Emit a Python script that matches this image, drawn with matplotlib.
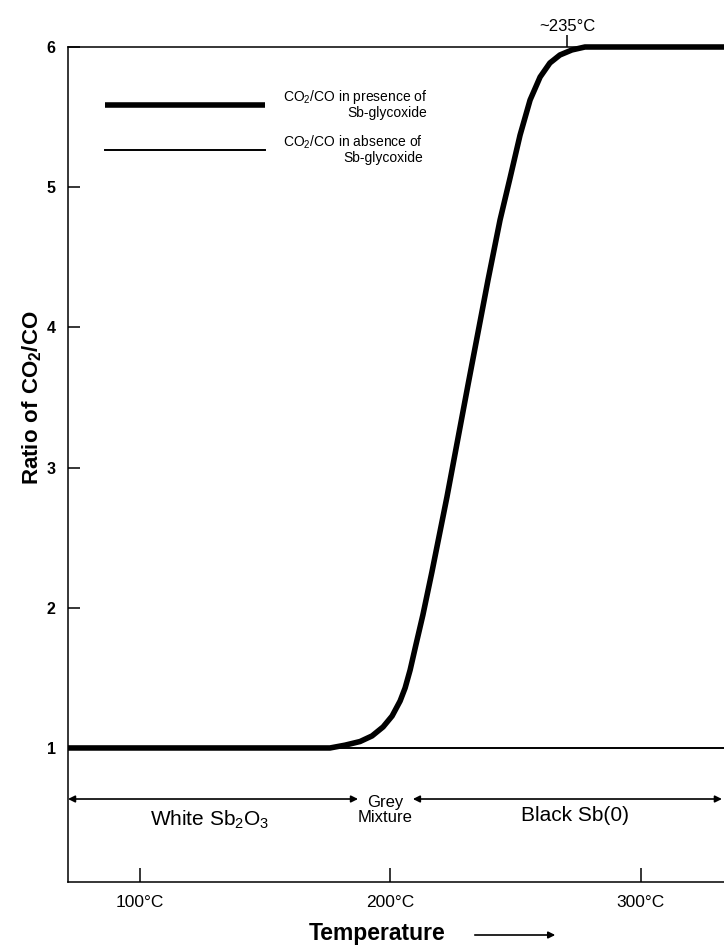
import numpy as np
import matplotlib
matplotlib.use("Agg")
import matplotlib.pyplot as plt

plt.rcParams['font.family'] = ['Liberation Sans', 'DejaVu Sans']
plt.rcParams['mathtext.fontset'] = 'custom'
plt.rcParams['mathtext.rm'] = 'Liberation Sans'
plt.rcParams['mathtext.bf'] = 'Liberation Sans:bold'
plt.rcParams['mathtext.default'] = 'regular'

# --- data (temperature in degC, ratio CO2/CO) ---
temp_with = [71.3, 175.9, 181.9, 187.9, 192.7, 197.1, 200.7, 203.9, 205.9,
             207.9, 210.2, 213.0, 216.6, 222.6, 231.0, 239.0, 243.8, 247.8,
             251.8, 255.8, 259.8, 263.7, 267.7, 272.5, 277.7, 345]
ratio_with = [1.0, 1.0, 1.02, 1.046, 1.086, 1.15, 1.228, 1.335, 1.428,
              1.556, 1.735, 1.949, 2.255, 2.79, 3.589, 4.338, 4.766, 5.066,
              5.372, 5.622, 5.786, 5.886, 5.943, 5.979, 6.0, 6.0]
temp_without = [71.3, 345]
ratio_without = [1.0, 1.0]

x_ticks = [100, 200, 300]
x_tick_labels = ['100°C', '200°C', '300°C']
y_ticks = [1, 2, 3, 4, 5, 6]
plateau_temp = 270.5
plateau_label = '~235°C'

# phase regions (temperature span of each arrow)
white_range = (71.3, 187.1)
black_range = (209.0, 332.4)

fig = plt.figure(figsize=(7.24, 9.46), dpi=100)
ax = fig.add_axes([68 / 724, 1 - 882 / 946, (753.5 - 68) / 724, (882 - 47) / 946])

ax.plot(temp_without, ratio_without, color='black', lw=1.4,
        label='CO$_2$/CO in absence of\nSb-glycoxide')
ax.plot(temp_with, ratio_with, color='black', lw=4.0, clip_on=False,
        solid_joinstyle='round', solid_capstyle='butt',
        label='CO$_2$/CO in presence of\nSb-glycoxide')

ax.set_xlim(71.3, 345)
ax.set_ylim(0.044, 6.0)

ax.set_xticks(x_ticks, labels=x_tick_labels)
ax.set_yticks(y_ticks)
ax.tick_params(axis='x', direction='in', length=10, width=1.1, pad=9, labelsize=12.5)
ax.tick_params(axis='y', direction='in', length=8.6, width=1.1, pad=9, labelsize=11.5)
for lbl in ax.get_yticklabels():
    lbl.set_fontweight('bold')

for s in ['left', 'bottom', 'top']:
    ax.spines[s].set_linewidth(1.1)
ax.spines['right'].set_visible(False)

# top marker for the plateau temperature
secax = ax.secondary_xaxis('top')
secax.set_xticks([plateau_temp], labels=[plateau_label])
secax.tick_params(direction='out', length=8.6, width=1.1, pad=1, labelsize=12)
secax.spines['top'].set_visible(False)

# legend (thick first)
handles, labels = ax.get_legend_handles_labels()
leg = ax.legend(handles[::-1], labels[::-1], loc='upper left',
                bbox_to_anchor=(0.054, 0.951), frameon=False, fontsize=10,
                handlelength=11.5, handletextpad=1.3, labelspacing=1.0,
                borderpad=0, borderaxespad=0)
for t in leg.get_texts():
    t.set_multialignment('right')
    t.set_linespacing(1.0)

# phase arrows
arrow_kw = dict(arrowstyle='<|-|>', color='black', lw=1.2, mutation_scale=10,
                shrinkA=0, shrinkB=0)
ax.annotate('', xy=(white_range[1], 0.636), xytext=(white_range[0], 0.636),
            arrowprops=arrow_kw, annotation_clip=False)
ax.annotate('', xy=(black_range[1], 0.636), xytext=(black_range[0], 0.636),
            arrowprops=arrow_kw, annotation_clip=False)
ax.text(128.0, 0.49, 'White Sb$_2$O$_3$', ha='center', va='center', fontsize=15)
ax.text(197.9, 0.56, 'Grey\nMixture', ha='center', va='center', fontsize=12,
        linespacing=1.0)
ax.text(273.7, 0.52, 'Black Sb(0)', ha='center', va='center', fontsize=15)

# axis labels
fig.text(32 / 724, 1 - 398 / 946, r'$\mathbf{Ratio\ of\ CO_2/CO}$',
         rotation=90, ha='center', va='center', fontsize=16)
fig.text(377 / 724, 1 - 933 / 946, 'Temperature', ha='center', va='center',
         fontsize=16.5, fontweight='bold')
fig.patches.append(matplotlib.patches.FancyArrowPatch(
    (472 / 724, 1 - 935 / 946), (558 / 724, 1 - 935 / 946),
    transform=fig.transFigure, arrowstyle='-|>', mutation_scale=10,
    color='black', lw=1.2))

fig.savefig('out.png', dpi=100)
